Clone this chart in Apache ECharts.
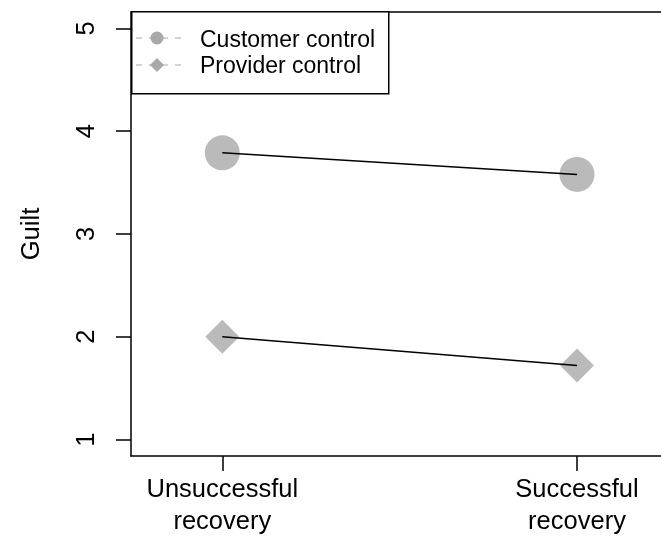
<!DOCTYPE html>
<html>
<head>
<meta charset="utf-8">
<script src="https://cdn.jsdelivr.net/npm/echarts@6/dist/echarts.min.js"></script>
<style>
  html, body { margin: 0; padding: 0; background: #fff; }
  #chart { width: 661px; height: 538px; }
</style>
</head>
<body>
<div id="chart"></div>
<script>
// data
var categories = ['Unsuccessful\nrecovery', 'Successful\nrecovery']
var customerControl = [3.79, 3.58]
var providerControl = [2.0, 1.72]
var yTicks = [1, 2, 3, 4, 5]
var seriesNames = ['Customer control', 'Provider control']

var grey = '#a9a9a9'
var font = 'Liberation Sans, Arial, Helvetica, sans-serif'
var axisLine = { show: true, lineStyle: { color: '#000', width: 1.5 } }

function toPoints(vals) {
  return vals.map(function (v, i) { return [i + 1, v] })
}

var chart = echarts.init(document.getElementById('chart'))

chart.setOption({
  animation: false,
  textStyle: { fontFamily: font },
  // the plot's right edge is cut off in the original, so the grid runs to the page edge
  grid: { left: 131, top: 12, right: 0, height: 446 },
  xAxis: [{
    type: 'value',
    min: 0.7426,
    max: 2.2368,
    axisLine: axisLine,
    splitLine: { show: false },
    axisTick: { customValues: [1, 2], length: 15, lineStyle: { color: '#000', width: 1.5 } },
    axisLabel: {
      customValues: [1, 2],
      formatter: function (v) { return categories[Math.round(v) - 1] },
      fontSize: 25.5, lineHeight: 32, color: '#000', margin: 18
    }
  }, {
    // top border only
    type: 'value', position: 'top',
    min: 0.7426, max: 2.2368,
    axisLine: axisLine,
    axisTick: { show: false }, axisLabel: { show: false }, splitLine: { show: false }
  }],
  yAxis: {
    type: 'value',
    min: 0.84,
    max: 5.16,
    name: 'Guilt',
    nameLocation: 'middle',
    nameRotate: 90,
    nameGap: 86,
    nameTextStyle: { fontSize: 25.5, color: '#000' },
    axisLine: axisLine,
    splitLine: { show: false },
    axisTick: { customValues: yTicks, length: 15, lineStyle: { color: '#000', width: 1.5 } },
    axisLabel: {
      customValues: yTicks,
      rotate: 90,
      fontSize: 25.5, color: '#000', margin: 31
    }
  },
  series: [
    {
      name: seriesNames[0], type: 'scatter', symbol: 'circle', symbolSize: 35,
      itemStyle: { color: grey }, data: toPoints(customerControl), z: 2
    },
    {
      name: seriesNames[1], type: 'scatter', symbol: 'diamond', symbolSize: 34,
      itemStyle: { color: grey }, data: toPoints(providerControl), z: 2
    },
    {
      type: 'line', showSymbol: false, silent: true, z: 3,
      lineStyle: { color: '#000', width: 1.5 }, data: toPoints(customerControl)
    },
    {
      type: 'line', showSymbol: false, silent: true, z: 3,
      lineStyle: { color: '#000', width: 1.5 }, data: toPoints(providerControl)
    }
  ],
  // legend box drawn like R's legend()
  graphic: [
    {
      type: 'rect', left: 131, top: 11,
      shape: { width: 257, height: 82 },
      style: { fill: '#fff', stroke: '#000', lineWidth: 1.5 }, z: 10
    },
    {
      type: 'line', shape: { x1: 136, y1: 38, x2: 181, y2: 38 },
      style: { stroke: grey, lineWidth: 1.2, lineDash: [6, 7] }, z: 11
    },
    {
      type: 'circle', shape: { cx: 157, cy: 38, r: 6.5 },
      style: { fill: grey }, z: 12
    },
    {
      type: 'text', x: 200, y: 41,
      style: { text: seriesNames[0], font: '23px ' + font, fill: '#000', textVerticalAlign: 'middle' }, z: 12
    },
    {
      type: 'line', shape: { x1: 136, y1: 65, x2: 181, y2: 65 },
      style: { stroke: grey, lineWidth: 1.2, lineDash: [6, 7] }, z: 11
    },
    {
      type: 'polygon', shape: { points: [[157, 58], [164, 65], [157, 72], [150, 65]] },
      style: { fill: grey }, z: 12
    },
    {
      type: 'text', x: 200, y: 67,
      style: { text: seriesNames[1], font: '23px ' + font, fill: '#000', textVerticalAlign: 'middle' }, z: 12
    }
  ]
})
</script>
</body>
</html>
